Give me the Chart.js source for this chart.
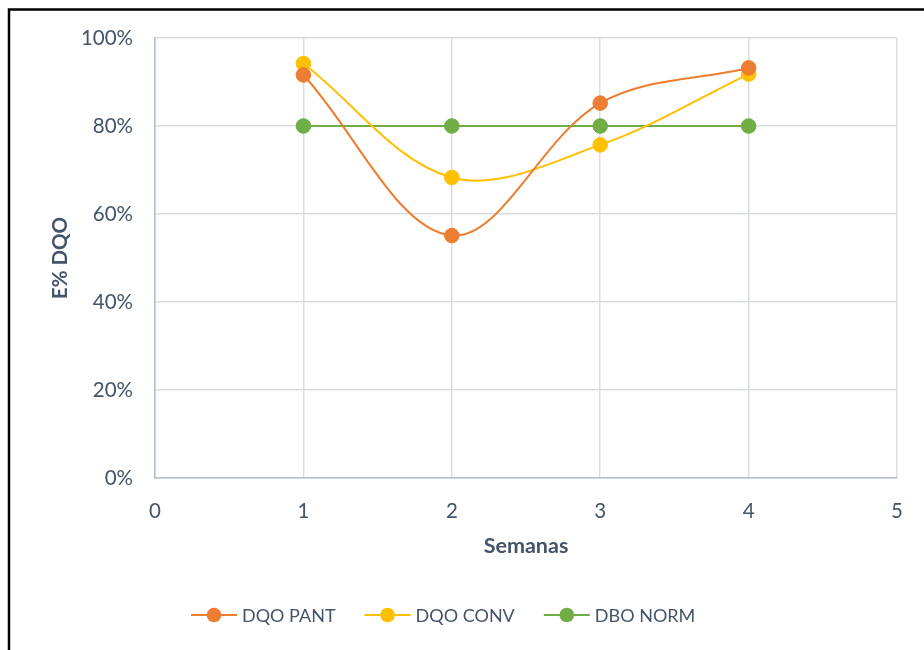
<!DOCTYPE html>
<html>
<head>
<meta charset="utf-8">
<script src="https://cdn.jsdelivr.net/npm/chart.js@4/dist/chart.umd.min.js"></script>
<style>
  html, body { margin: 0; padding: 0; background: #fff; }
  #wrap { position: relative; width: 924px; height: 650px; }
</style>
</head>
<body>
<div id="wrap"><canvas id="c" width="924" height="650"></canvas></div>
<script>
// Semanas (x) and removal efficiencies in percent
const semanas = [1, 2, 3, 4];
const dqoPant = [91.6, 55.1, 85.2, 93.2];
const dqoConv = [94.2, 68.3, 75.7, 91.8];
const dboNorm = [80, 80, 80, 80];
const seriesNames = ['DQO PANT', 'DQO CONV', 'DBO NORM'];
const seriesColors = ['#ED7D31', '#FFC000', '#70AD47'];

const FONT = 'Lato, "Open Sans", sans-serif';
const TEXT = '#44546A';

function toPoints(xs, ys) { return xs.map((x, i) => ({ x: x, y: ys[i] })); }

const values = [dqoPant, dqoConv, dboNorm];
const datasets = values.map((v, i) => ({
  label: seriesNames[i],
  data: toPoints(semanas, v),
  borderColor: seriesColors[i],
  backgroundColor: seriesColors[i],
  pointBackgroundColor: seriesColors[i],
  pointBorderColor: seriesColors[i],
  borderWidth: 2,
  pointRadius: 7.3,
  pointBorderWidth: 1,
  tension: i === 2 ? 0 : 0.35
}));

// outer frame and bottom legend
const decor = {
  id: 'decor',
  afterDraw(chart) {
    const ctx = chart.ctx;
    ctx.save();
    ctx.strokeStyle = '#000';
    ctx.lineWidth = 2.5;
    ctx.beginPath();
    ctx.moveTo(9, 650);
    ctx.lineTo(9, 9.5);
    ctx.lineTo(924, 9.5);
    ctx.stroke();

    const ds = chart.data.datasets;
    ctx.font = '18px ' + FONT;
    ctx.textBaseline = 'middle';
    const seg = 23, gap = 5, spacing = 29;
    let x = 191;
    const y = 615;
    ds.forEach((d) => {
      ctx.strokeStyle = d.borderColor;
      ctx.lineWidth = 2;
      ctx.beginPath();
      ctx.moveTo(x, y);
      ctx.lineTo(x + seg * 2, y);
      ctx.stroke();
      ctx.fillStyle = d.backgroundColor;
      ctx.beginPath();
      ctx.arc(x + seg, y, 7.3, 0, Math.PI * 2);
      ctx.fill();
      ctx.fillStyle = TEXT;
      ctx.textAlign = 'left';
      ctx.fillText(d.label, x + seg * 2 + gap, y + 1);
      x += seg * 2 + gap + ctx.measureText(d.label).width + spacing;
    });
    ctx.restore();
  }
};

new Chart(document.getElementById('c'), {
  type: 'line',
  data: { datasets: datasets },
  options: {
    responsive: false,
    animation: false,
    layout: { padding: { top: 38, right: 25, bottom: 80, left: 0 } },
    plugins: { legend: { display: false }, tooltip: { enabled: false } },
    scales: {
      x: {
        type: 'linear',
        min: 0, max: 5,
        afterFit(s) { s.height = 92; },
        ticks: { stepSize: 1, color: TEXT, font: { family: FONT, size: 20.5 }, padding: 21 },
        grid: { color: '#D9DEE6', lineWidth: 1.5, drawTicks: false },
        border: { color: '#B4BFCF', width: 1.5 },
        title: {
          display: true, text: 'Semanas', color: TEXT,
          font: { family: FONT, size: 21.5, weight: 'bold' },
          padding: { top: 11, bottom: 11 }
        }
      },
      y: {
        min: 0, max: 100,
        afterFit(s) { s.width = 155; },
        ticks: {
          stepSize: 20, color: TEXT, font: { family: FONT, size: 20.5 }, padding: 22,
          callback: v => v + '%'
        },
        grid: { color: '#D9DEE6', lineWidth: 1.5, drawTicks: false },
        border: { color: '#B4BFCF', width: 1.5 },
        title: {
          display: true, text: 'E% DQO', color: TEXT,
          font: { family: FONT, size: 20.5, weight: 'bold' },
          padding: { top: 48, bottom: 0 }
        }
      }
    }
  },
  plugins: [decor]
});
</script>
</body>
</html>
